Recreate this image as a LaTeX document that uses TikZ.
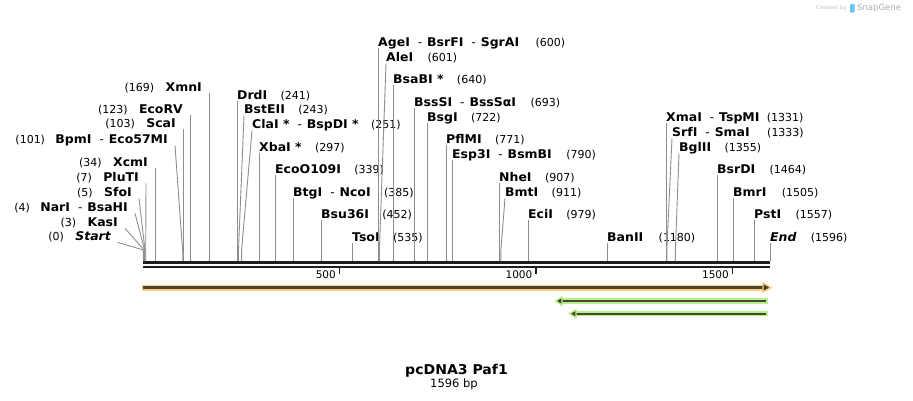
\documentclass[tikz,border=0pt]{standalone}
\usepackage{fontspec}
\setmainfont{DejaVu Sans}[BoldFeatures={FakeStretch=1.04},BoldItalicFeatures={FakeStretch=1.04}]
\usetikzlibrary{positioning,arrows.meta}
\definecolor{bbline}{HTML}{1E1E1E}
\definecolor{cutgray}{HTML}{8E8E8E}
\definecolor{featorange}{HTML}{FFCC80}
\definecolor{featgreen}{HTML}{B6F28C}
\definecolor{featdark}{HTML}{4A4433}
\definecolor{snapblue}{HTML}{6EC3F2}
\newcommand\dsep{\hspace{8pt}{\mdseries-}\hspace{5pt}}
\tikzset{
  enz/.style={inner sep=0pt, font=\fontsize{12}{14}\selectfont\bfseries},
  bpnum/.style={inner sep=0pt, font=\fontsize{11}{13}\selectfont},
  ticklab/.style={inner sep=0pt, font=\fontsize{10.5}{12}\selectfont, anchor=base east},
  cut/.style={draw=cutgray, line width=0.9pt},
}
\begin{document}
\begin{tikzpicture}[x=1pt,y=-1pt]
		\useasboundingbox (0,0) rectangle (913,400);
		% watermark
		\node [inner sep=0pt, anchor=base west, text=gray!45, font=\fontsize{5.5}{6}\selectfont] (made) at (816,9.5) {Created by};
		\fill [snapblue, rounded corners=1pt] (850,4) rectangle (854.5,12.5);
		\node [inner sep=0pt, anchor=base west, text=gray!65, font=\fontsize{8.5}{9}\selectfont] (brand) at (857,10) {SnapGene};
		% backbone
		\coordinate (bbL) at (143,262.5);
		\coordinate (bbR) at (770,262.5);
		\coordinate (rail) at (143,261);
		\draw [bbline, line width=3pt] (bbL) -- (bbR);
		\draw [bbline, line width=2pt] ([yshift=-4pt]bbL) -- ([yshift=-4pt]bbR);
		\draw [bbline, line width=1.6pt] (339.4,267.5) -- (339.4,273.5);
		\draw [bbline, line width=1.6pt] (535.9,267.5) -- (535.9,273.5);
		\draw [bbline, line width=1.6pt] (732.3,267.5) -- (732.3,273.5);
		\node [ticklab] (t500) at (336,278.5) {500};
		\node [ticklab] (t1000) at (532.5,278.5) {1000};
		\node [ticklab] (t1500) at (729,278.5) {1500};
		% left side sites
		\node [enz, anchor=base east] (XmnI) at (202,91.4) {XmnI};
		\node [bpnum, left=11pt of XmnI.base west, anchor=base east] (nXmnI) {(169)};
		\draw [cut] ([shift={(7pt,-2pt)}]XmnI.base east) coordinate (q) -- (q |- rail);
		\node [enz, anchor=base east] (EcoRV) at (183,113.4) {EcoRV};
		\node [bpnum, left=11pt of EcoRV.base west, anchor=base east] (nEcoRV) {(123)};
		\draw [cut] ([shift={(7pt,-2pt)}]EcoRV.base east) coordinate (q) -- (q |- rail);
		\node [enz, anchor=base east] (ScaI) at (176,127.4) {ScaI};
		\node [bpnum, left=11pt of ScaI.base west, anchor=base east] (nScaI) {(103)};
		\draw [cut] ([shift={(7pt,-2pt)}]ScaI.base east) coordinate (q) -- (q |- rail);
		\node [enz, anchor=base east] (BpmI) at (168,143.4) {BpmI\dsep Eco57MI};
		\node [bpnum, left=10pt of BpmI.base west, anchor=base east] (nBpmI) {(101)};
		\coordinate (kBpmI) at (182.7,252);
		\draw [cut] ([shift={(7pt,-2pt)}]BpmI.base east) -- (kBpmI) -- (kBpmI |- rail);
		\node [enz, anchor=base east] (XcmI) at (148,166.4) {XcmI};
		\node [bpnum, left=11pt of XcmI.base west, anchor=base east] (nXcmI) {(34)};
		\draw [cut] ([shift={(7pt,-2pt)}]XcmI.base east) coordinate (q) -- (q |- rail);
		\node [enz, anchor=base east] (PluTI) at (139,181.4) {PluTI};
		\node [bpnum, left=11pt of PluTI.base west, anchor=base east] (nPluTI) {(7)};
		\coordinate (kPluTI) at (145.7,252);
		\draw [cut] ([shift={(7pt,-2pt)}]PluTI.base east) -- (kPluTI) -- (kPluTI |- rail);
		\node [enz, anchor=base east] (SfoI) at (132,196.4) {SfoI};
		\node [bpnum, left=11pt of SfoI.base west, anchor=base east] (nSfoI) {(5)};
		\coordinate (kSfoI) at (145,250);
		\draw [cut] ([shift={(7pt,-2pt)}]SfoI.base east) -- (kSfoI) -- (kSfoI |- rail);
		\node [enz, anchor=base east] (NarI) at (128,211.4) {NarI\dsep BsaHI};
		\node [bpnum, left=10pt of NarI.base west, anchor=base east] (nNarI) {(4)};
		\coordinate (kNarI) at (144.6,250);
		\draw [cut] ([shift={(7pt,-2pt)}]NarI.base east) -- (kNarI) -- (kNarI |- rail);
		\node [enz, anchor=base east] (KasI) at (118,226.4) {KasI};
		\node [bpnum, left=11pt of KasI.base west, anchor=base east] (nKasI) {(3)};
		\coordinate (kKasI) at (144.2,250);
		\draw [cut] ([shift={(7pt,-2pt)}]KasI.base east) -- (kKasI) -- (kKasI |- rail);
		\node [enz, anchor=base east] (Start) at (111,240.4) {\itshape Start};
		\node [bpnum, left=11pt of Start.base west, anchor=base east] (nStart) {(0)};
		\coordinate (kStart) at (143.3,250);
		\draw [cut] ([shift={(7pt,-2pt)}]Start.base east) -- (kStart) -- (kStart |- rail);
		% right side sites
		\node [enz, anchor=base west] (DrdI) at (237,99.4) {DrdI};
		\node [bpnum, right=13pt of DrdI.base east, anchor=base west] (nDrdI) {(241)};
		\draw [cut] ([yshift=-2pt]DrdI.base west) -- (DrdI.base west |- rail);
		\node [enz, anchor=base west] (BstEII) at (244,113.4) {BstEII};
		\node [bpnum, right=13pt of BstEII.base east, anchor=base west] (nBstEII) {(243)};
		\coordinate (kBstEII) at (238.5,250);
		\draw [cut] ([yshift=-2pt]BstEII.base west) -- (kBstEII) -- (kBstEII |- rail);
		\node [enz, anchor=base west] (ClaI) at (252,128.4) {ClaI *\dsep BspDI *};
		\node [bpnum, right=12pt of ClaI.base east, anchor=base west] (nClaI) {(251)};
		\coordinate (kClaI) at (241.6,250);
		\draw [cut] ([yshift=-2pt]ClaI.base west) -- (kClaI) -- (kClaI |- rail);
		\node [enz, anchor=base west] (XbaI) at (259,151.4) {XbaI *};
		\node [bpnum, right=13pt of XbaI.base east, anchor=base west] (nXbaI) {(297)};
		\draw [cut] ([yshift=-2pt]XbaI.base west) -- (XbaI.base west |- rail);
		\node [enz, anchor=base west] (EcoO109I) at (275,173.4) {EcoO109I};
		\node [bpnum, right=13pt of EcoO109I.base east, anchor=base west] (nEcoO109I) {(339)};
		\draw [cut] ([yshift=-2pt]EcoO109I.base west) -- (EcoO109I.base west |- rail);
		\node [enz, anchor=base west] (BtgI) at (293,196.4) {BtgI\dsep NcoI};
		\node [bpnum, right=13pt of BtgI.base east, anchor=base west] (nBtgI) {(385)};
		\draw [cut] ([yshift=-2pt]BtgI.base west) -- (BtgI.base west |- rail);
		\node [enz, anchor=base west] (Bsu36I) at (321,218.4) {Bsu36I};
		\node [bpnum, right=13pt of Bsu36I.base east, anchor=base west] (nBsu36I) {(452)};
		\draw [cut] ([yshift=-2pt]Bsu36I.base west) -- (Bsu36I.base west |- rail);
		\node [enz, anchor=base west] (TsoI) at (352,241.4) {TsoI};
		\node [bpnum, right=13pt of TsoI.base east, anchor=base west] (nTsoI) {(535)};
		\draw [cut] ([yshift=-2pt]TsoI.base west) -- (TsoI.base west |- rail);
		\node [enz, anchor=base west] (AgeI) at (378,46.4) {AgeI\dsep BsrFI\dsep SgrAI};
		\node [bpnum, right=16pt of AgeI.base east, anchor=base west] (nAgeI) {(600)};
		\draw [cut] ([yshift=-2pt]AgeI.base west) -- (AgeI.base west |- rail);
		\node [enz, anchor=base west] (AleI) at (386,61.4) {AleI};
		\node [bpnum, right=14pt of AleI.base east, anchor=base west] (nAleI) {(601)};
		\coordinate (kAleI) at (379.4,250);
		\draw [cut] ([yshift=-2pt]AleI.base west) -- (kAleI) -- (kAleI |- rail);
		\node [enz, anchor=base west] (BsaBI) at (393,83.4) {BsaBI *};
		\node [bpnum, right=13pt of BsaBI.base east, anchor=base west] (nBsaBI) {(640)};
		\draw [cut] ([yshift=-2pt]BsaBI.base west) -- (BsaBI.base west |- rail);
		\node [enz, anchor=base west] (BssSI) at (414,106.4) {BssSI\dsep BssSαI};
		\node [bpnum, right=14pt of BssSI.base east, anchor=base west] (nBssSI) {(693)};
		\draw [cut] ([yshift=-2pt]BssSI.base west) -- (BssSI.base west |- rail);
		\node [enz, anchor=base west] (BsgI) at (427,121.4) {BsgI};
		\node [bpnum, right=13pt of BsgI.base east, anchor=base west] (nBsgI) {(722)};
		\draw [cut] ([yshift=-2pt]BsgI.base west) -- (BsgI.base west |- rail);
		\node [enz, anchor=base west] (PflMI) at (446,143.4) {PflMI};
		\node [bpnum, right=13pt of PflMI.base east, anchor=base west] (nPflMI) {(771)};
		\draw [cut] ([yshift=-2pt]PflMI.base west) -- (PflMI.base west |- rail);
		\node [enz, anchor=base west] (Esp3I) at (452,158.4) {Esp3I\dsep BsmBI};
		\node [bpnum, right=14pt of Esp3I.base east, anchor=base west] (nEsp3I) {(790)};
		\draw [cut] ([yshift=-2pt]Esp3I.base west) -- (Esp3I.base west |- rail);
		\node [enz, anchor=base west] (NheI) at (499,181.4) {NheI};
		\node [bpnum, right=13pt of NheI.base east, anchor=base west] (nNheI) {(907)};
		\draw [cut] ([yshift=-2pt]NheI.base west) -- (NheI.base west |- rail);
		\node [enz, anchor=base west] (BmtI) at (505,196.4) {BmtI};
		\node [bpnum, right=13pt of BmtI.base east, anchor=base west] (nBmtI) {(911)};
		\coordinate (kBmtI) at (500.9,250);
		\draw [cut] ([yshift=-2pt]BmtI.base west) -- (kBmtI) -- (kBmtI |- rail);
		\node [enz, anchor=base west] (EciI) at (528,218.4) {EciI};
		\node [bpnum, right=13pt of EciI.base east, anchor=base west] (nEciI) {(979)};
		\draw [cut] ([yshift=-2pt]EciI.base west) -- (EciI.base west |- rail);
		\node [enz, anchor=base west] (BanII) at (607,241.4) {BanII};
		\node [bpnum, right=15pt of BanII.base east, anchor=base west] (nBanII) {(1180)};
		\draw [cut] ([yshift=-2pt]BanII.base west) -- (BanII.base west |- rail);
		\node [enz, anchor=base west] (XmaI) at (666,121.4) {XmaI\dsep TspMI};
		\node [bpnum, right=7pt of XmaI.base east, anchor=base west] (nXmaI) {(1331)};
		\draw [cut] ([yshift=-2pt]XmaI.base west) -- (XmaI.base west |- rail);
		\node [enz, anchor=base west] (SrfI) at (672,136.4) {SrfI\dsep SmaI};
		\node [bpnum, right=17pt of SrfI.base east, anchor=base west] (nSrfI) {(1333)};
		\coordinate (kSrfI) at (666.8,250);
		\draw [cut] ([yshift=-2pt]SrfI.base west) -- (kSrfI) -- (kSrfI |- rail);
		\node [enz, anchor=base west] (BglII) at (679,151.4) {BglII};
		\node [bpnum, right=13pt of BglII.base east, anchor=base west] (nBglII) {(1355)};
		\coordinate (kBglII) at (675.4,250);
		\draw [cut] ([yshift=-2pt]BglII.base west) -- (kBglII) -- (kBglII |- rail);
		\node [enz, anchor=base west] (BsrDI) at (717,173.4) {BsrDI};
		\node [bpnum, right=14pt of BsrDI.base east, anchor=base west] (nBsrDI) {(1464)};
		\draw [cut] ([yshift=-2pt]BsrDI.base west) -- (BsrDI.base west |- rail);
		\node [enz, anchor=base west] (BmrI) at (733,196.4) {BmrI};
		\node [bpnum, right=15pt of BmrI.base east, anchor=base west] (nBmrI) {(1505)};
		\draw [cut] ([yshift=-2pt]BmrI.base west) -- (BmrI.base west |- rail);
		\node [enz, anchor=base west] (PstI) at (754,218.4) {PstI};
		\node [bpnum, right=14pt of PstI.base east, anchor=base west] (nPstI) {(1557)};
		\draw [cut] ([yshift=-2pt]PstI.base west) -- (PstI.base west |- rail);
		\node [enz, anchor=base west] (End) at (770,241.4) {\itshape End};
		\node [bpnum, right=14pt of End.base east, anchor=base west] (nEnd) {(1596)};
		\draw [cut] ([yshift=-2pt]End.base west) -- (End.base west |- rail);
		% features
		\draw [featorange, line width=6pt] (142,287.5) -- (764,287.5);
		\draw [featdark, line width=2.4pt] (143,287.5) -- (764,287.5);
		\filldraw [fill=featdark, draw=featorange, line width=1.4pt, line join=miter] (763,283) -- (771,287.5) -- (763,292) -- cycle;
		\draw [featgreen, line width=5.5pt] (561,301) -- (768,301);
		\draw [featdark, line width=2.4pt] (561,301) -- (765.5,301);
		\filldraw [fill=featdark, draw=featgreen, line width=1.4pt, line join=miter] (562,297) -- (555.5,301) -- (562,305) -- cycle;
		\draw [featgreen, line width=5.5pt] (575,313.7) -- (768,313.7);
		\draw [featdark, line width=2.4pt] (575,313.7) -- (765.5,313.7);
		\filldraw [fill=featdark, draw=featgreen, line width=1.4pt, line join=miter] (576,309.7) -- (569.5,313.7) -- (576,317.7) -- cycle;
		% title
		\node [inner sep=0pt, anchor=base, font=\fontsize{13.5}{16}\selectfont\bfseries] (title) at (456.5,374.6) {pcDNA3 Paf1};
		\node [inner sep=0pt, anchor=base, font=\fontsize{11.5}{14}\selectfont] (bp) at (454,387.8) {1596 bp};
		
		\end{tikzpicture}
\end{document}
